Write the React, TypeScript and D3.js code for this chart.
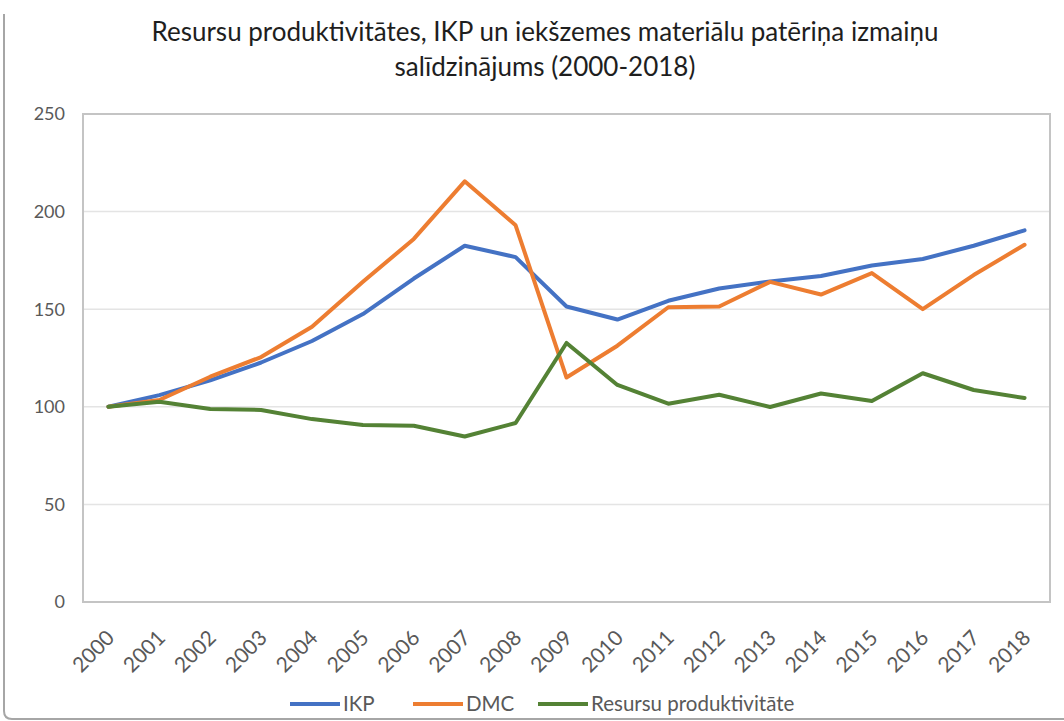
import React from "react";
import * as d3 from "d3";

const years = [
  "2000", "2001", "2002", "2003", "2004", "2005", "2006", "2007", "2008", "2009",
  "2010", "2011", "2012", "2013", "2014", "2015", "2016", "2017", "2018",
];

const ikp = [100, 106, 113.5, 122.7, 133.7, 147.5, 165.7, 182.5, 176.7, 151.4, 144.7, 154.3, 160.6, 164.2, 167, 172.4, 175.7, 182.5, 190.4];
const dmc = [100, 103.5, 115.4, 125.5, 141, 164, 186, 215.5, 193, 115, 131.3, 151, 151.4, 164, 157.5, 168.5, 150, 167.5, 183];
const resursu = [100, 102.6, 98.9, 98.4, 93.7, 90.7, 90.3, 84.8, 91.7, 132.7, 111.2, 101.6, 106.2, 99.9, 106.8, 103, 117.2, 108.6, 104.5];

const yTicks = [0, 50, 100, 150, 200, 250];

const titleLines = [
  "Resursu produktivitātes, IKP un iekšzemes materiālu patēriņa izmaiņu",
  "salīdzinājums (2000-2018)",
];

const series = [
  { name: "IKP", values: ikp, color: "#4472C4" },
  { name: "DMC", values: dmc, color: "#ED7D31" },
  { name: "Resursu produktivitāte", values: resursu, color: "#548235" },
];

const W = 1064;
const H = 721;
const plot = { left: 83, right: 1050, top: 114, bottom: 602 };
const font = "Lato, 'Open Sans', sans-serif";

export default function App() {
  const x0 = d3.scaleBand().domain(years).range([plot.left, plot.right]).padding(0);
  const x = (d: string) => (x0(d) || 0) + x0.bandwidth() / 2;
  const y = d3.scaleLinear().domain([0, 250]).range([plot.bottom, plot.top]);

  const line = d3
    .line<number>()
    .x((_, i) => x(years[i]))
    .y((d) => y(d));

  // legend layout (start x of each swatch)
  const legendY = 704;
  const legendX = [290, 413, 538];

  return (
    <svg
      width={W}
      height={H}
      style={{ position: "absolute", left: 0, top: 0, background: "#fff" }}
      fontFamily={font}
    >
      <rect x={0} y={0} width={W} height={H} fill="#fff" />

      {/* title */}
      {titleLines.map((t, i) => (
        <text
          key={i}
          x={545}
          y={41 + i * 35}
          textAnchor="middle"
          fontSize={26}
          fill="#1e1e1e"
        >
          {t}
        </text>
      ))}

      {/* gridlines */}
      {yTicks.slice(1, -1).map((t) => (
        <line
          key={t}
          x1={plot.left}
          x2={plot.right}
          y1={y(t)}
          y2={y(t)}
          stroke="#e4e4e4"
          strokeWidth={1.5}
        />
      ))}

      {/* plot border */}
      <rect
        x={plot.left}
        y={plot.top}
        width={plot.right - plot.left}
        height={plot.bottom - plot.top}
        fill="none"
        stroke="#c4c4c4"
        strokeWidth={2}
      />

      {/* y tick labels */}
      {yTicks.map((t) => (
        <text
          key={t}
          x={65}
          y={y(t)}
          dy="0.35em"
          textAnchor="end"
          fontSize={18}
          fill="#595959"
        >
          {t}
        </text>
      ))}

      {/* x tick labels */}
      {years.map((yr) => (
        <text
          key={yr}
          transform={`translate(${x(yr) + 2},${plot.bottom + 32}) rotate(-45)`}
          dy="0.35em"
          textAnchor="end"
          fontSize={21}
          fill="#595959"
        >
          {yr}
        </text>
      ))}

      {/* series lines */}
      {series.map((s) => (
        <path
          key={s.name}
          d={line(s.values) || ""}
          fill="none"
          stroke={s.color}
          strokeWidth={4}
          strokeLinejoin="round"
          strokeLinecap="round"
        />
      ))}

      {/* legend */}
      {series.map((s, i) => (
        <g key={s.name}>
          <line
            x1={legendX[i]}
            x2={legendX[i] + 50}
            y1={legendY}
            y2={legendY}
            stroke={s.color}
            strokeWidth={4}
          />
          <text x={legendX[i] + 53} y={legendY} dy="0.35em" fontSize={20.5} fill="#595959">
            {s.name}
          </text>
        </g>
      ))}

      {/* outer frame */}
      <path
        d={`M4,14 L4,711 Q4,719 12,719 L${W + 2},719`}
        fill="none"
        stroke="#a6a6a6"
        strokeWidth={2}
      />
    </svg>
  );
}
